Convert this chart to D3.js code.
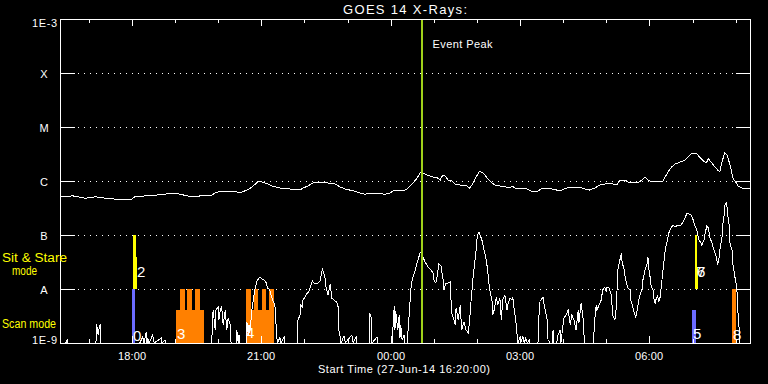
<!DOCTYPE html>
<html><head><meta charset="utf-8">
<script src="https://cdn.jsdelivr.net/npm/d3@7"></script>
<style>html,body{margin:0;padding:0;background:#000;overflow:hidden}</style>
</head><body>
<svg id="c" width="768" height="384"></svg>
<script>
// ---------------- DATA ----------------
const startUTC = Date.UTC(2014, 5, 27, 16, 20);   // 27-Jun-14 16:20:00
const spanMinutes = 960;
const titleText = "GOES 14 X-Rays:";
const xAxisTitle = "Start Time (27-Jun-14 16:20:00)";
const peakMinute = 503;
const peakText = "Event Peak";

// 1-8 A channel (upper curve): minutes since start, flux W/m^2
const longMinutes = [0,18,35,49,63,79,100,104,118,122,135,146,153,167,177,188,195,209,216,223,234,246,250,260,267,275,281,289,295,306,320,334,338,345,352,362,369,376,383,390,397,403,410,417,424,438,452,459,466,480,483,490,497,501,505,511,519,525,529,531,534,537,540,545,550,557,566,570,575,579,583,586,590,594,598,605,612,622,626,629,633,640,650,658,664,669,678,685,691,698,705,714,723,730,737,744,751,758,769,775,779,786,793,803,810,814,818,824,838,842,846,851,856,863,870,874,878,882,886,890,895,899,902,906,910,915,918,921,924,925,928,931,934,936,941,943,949,960];
const longFlux = [5.1e-7,5.3e-7,4.8e-7,5.1e-7,4.8e-7,4.6e-7,4.6e-7,5.1e-7,5.3e-7,5.5e-7,5.5e-7,5.7e-7,6.0e-7,5.7e-7,5.3e-7,5.1e-7,5.3e-7,5.3e-7,6.0e-7,6.5e-7,6.3e-7,6.3e-7,6.0e-7,6.8e-7,7.7e-7,9.6e-7,9.6e-7,8.8e-7,8.1e-7,7.4e-7,7.1e-7,6.8e-7,7.4e-7,8.1e-7,9.2e-7,9.2e-7,9.6e-7,8.8e-7,8.8e-7,7.7e-7,7.1e-7,6.8e-7,6.5e-7,6.0e-7,5.7e-7,6.0e-7,5.7e-7,6.0e-7,6.8e-7,6.8e-7,7.1e-7,8.8e-7,1.14e-6,1.41e-6,1.41e-6,1.29e-6,1.19e-6,1.14e-6,1.04e-6,1.19e-6,1.29e-6,1.19e-6,1.04e-6,1.0e-6,8.8e-7,8.4e-7,8.1e-7,7.4e-7,9.2e-7,1.19e-6,1.47e-6,1.47e-6,1.35e-6,1.14e-6,1.0e-6,8.4e-7,8.1e-7,7.7e-7,7.4e-7,8.1e-7,7.4e-7,7.4e-7,7.1e-7,6.3e-7,6.3e-7,7.1e-7,7.4e-7,7.1e-7,6.8e-7,6.8e-7,7.4e-7,7.7e-7,7.7e-7,7.1e-7,6.8e-7,7.4e-7,8.4e-7,8.8e-7,8.8e-7,8.4e-7,1.04e-6,1.04e-6,9.2e-7,9.2e-7,1.04e-6,1.19e-6,1.04e-6,9.6e-7,9.6e-7,1.19e-6,1.47e-6,1.82e-6,2.06e-6,2.25e-6,2.45e-6,2.78e-6,3.16e-6,3.30e-6,3.16e-6,2.78e-6,2.35e-6,2.15e-6,2.56e-6,2.25e-6,1.90e-6,1.60e-6,1.47e-6,2.25e-6,3.03e-6,3.30e-6,3.03e-6,2.25e-6,1.60e-6,1.14e-6,9.2e-7,8.1e-7,7.4e-7,7.1e-7];

// 0.5-4 A channel (lower curve)
const shortMinutes = [0,8,10,11,50,51,53,54,56,57,111,115,117,120,121,122,124,129,131,141,142,146,147,211,213,216,217,220,221,223,225,227,230,231,232,234,237,238,245,246,248,249,250,259,260,262,263,264,266,267,269,271,274,277,278,281,284,287,289,292,294,296,299,301,302,303,306,307,312,313,330,331,334,335,337,338,341,344,346,351,353,356,359,362,365,367,369,370,373,376,377,378,381,385,387,388,390,391,395,397,406,408,412,413,430,431,433,434,441,442,462,465,466,467,470,472,473,474,476,479,480,483,486,488,490,493,495,498,501,502,505,508,512,516,519,520,523,525,527,530,533,534,537,540,543,544,545,548,550,551,554,557,558,559,562,565,568,570,572,575,577,579,580,582,583,584,587,590,593,595,597,598,601,602,604,607,609,612,614,616,619,622,623,626,629,630,632,634,636,637,640,641,644,646,648,650,653,654,665,666,668,669,672,673,675,678,679,682,685,686,687,691,693,696,697,699,701,704,707,710,712,715,718,721,722,725,728,729,730,742,744,746,747,750,753,755,758,760,761,764,767,768,769,771,772,774,775,776,779,781,782,785,787,790,793,794,797,799,801,803,806,807,810,811,814,817,818,819,821,822,825,826,828,829,831,832,833,835,836,839,842,845,847,850,853,856,858,861,864,867,870,872,875,878,881,883,886,889,892,893,896,897,900,902,904,907,910,913,915,917,918,921,922,924,925,927,928,929,931,932,935,936,939,941,942,943,945,946,949];
const shortFlux = [1e-9,1e-9,1.14e-9,1e-9,1e-9,2.25e-9,1.41e-9,1.74e-9,2.25e-9,1e-9,1e-9,1.29e-9,1e-9,1.6e-9,1e-9,1.24e-9,1e-9,1.41e-9,1e-9,1.24e-9,1e-9,1.14e-9,1e-9,1e-9,4.08e-9,1.74e-9,4.08e-9,4.64e-9,2.67e-9,4.08e-9,4.64e-9,2.15e-9,4.08e-9,2.67e-9,1.74e-9,2.9e-9,2.15e-9,1e-9,1e-9,1.74e-9,1e-9,1.41e-9,1e-9,1e-9,2.45e-9,1.41e-9,2.15e-9,1.53e-9,2.9e-9,4.08e-9,6.25e-9,9.58e-9,1.41e-8,1.6e-8,1.67e-8,1.53e-8,1.47e-8,1.29e-8,1.04e-8,9.58e-9,7.41e-9,6.25e-9,5.05e-9,1.74e-9,1.14e-9,1e-9,1.29e-9,1e-9,1.29e-9,1e-9,1e-9,2.67e-9,3.3e-9,5.05e-9,4.64e-9,6.25e-9,7.11e-9,8.43e-9,8.8e-9,1.41e-8,1.29e-8,1.24e-8,1.29e-8,1.41e-8,2.35e-8,1.98e-8,1.53e-8,1.09e-8,7.74e-9,1.24e-8,9.18e-9,6.81e-9,6.25e-9,5.74e-9,4.64e-9,1.74e-9,1.24e-9,1e-9,1.35e-9,1e-9,1.41e-9,1e-9,1.29e-9,1e-9,1e-9,3.59e-9,2.9e-9,1e-9,1.29e-9,1e-9,1e-9,4.84e-9,1.74e-9,3.91e-9,1.74e-9,3.3e-9,1.24e-9,2.15e-9,1.14e-9,1.41e-9,1e-9,1e-9,3.59e-9,9.58e-9,1.47e-8,1.98e-8,2.45e-8,3.44e-8,4.64e-8,4.84e-8,3.91e-8,3.16e-8,2.55e-8,2.25e-8,1.98e-8,1.47e-8,1.29e-8,1.82e-8,2.9e-8,2.67e-8,1.47e-8,9.58e-9,1.29e-8,1.29e-8,1.35e-8,6.25e-9,3.59e-9,2.67e-9,2.15e-9,4.45e-9,2.67e-9,5.05e-9,2.67e-9,1.74e-9,2.45e-9,1.74e-9,1.53e-9,2.67e-9,6.25e-9,1.82e-8,3.03e-8,5.27e-8,8.07e-8,1.09e-7,1.14e-7,1.04e-7,8.07e-8,5.27e-8,3.44e-8,2.25e-8,1.19e-8,9.58e-9,6.25e-9,3.3e-9,4.08e-9,7.11e-9,5.05e-9,6.81e-9,2.67e-9,6.25e-9,7.74e-9,4.08e-9,5.05e-9,6.81e-9,6.25e-9,7.11e-9,4.08e-9,2.67e-9,1.41e-9,1e-9,1.29e-9,1e-9,1.35e-9,1e-9,1.24e-9,1e-9,1.14e-9,1e-9,1e-9,2.67e-9,6.25e-9,6.25e-9,7.11e-9,5.74e-9,4.08e-9,2.67e-9,1.14e-9,1e-9,1e-9,1.74e-9,1e-9,1e-9,1.41e-9,1.74e-9,1e-9,1.74e-9,2.9e-9,3.3e-9,4.08e-9,2.15e-9,3.4e-9,2.67e-9,1.74e-9,4.08e-9,2.35e-9,5.5e-9,2.67e-9,1.41e-9,1e-9,1e-9,2.67e-9,5.05e-9,4.08e-9,5.05e-9,6.25e-9,9.58e-9,1.09e-8,8.8e-9,1.09e-8,1.04e-8,7.74e-9,5.05e-9,3.3e-9,2.9e-9,2.67e-9,4.45e-9,9.58e-9,2.25e-8,3.44e-8,4.64e-8,3.16e-8,2.25e-8,1.47e-8,1.04e-8,9.58e-9,6.25e-9,4.64e-9,3.59e-9,3.03e-9,4.08e-9,7.11e-9,7.74e-9,1.04e-8,1.47e-8,2.25e-8,3.03e-8,3.91e-8,2.45e-8,1.67e-8,1.19e-8,9.58e-9,6.81e-9,5.5e-9,6.25e-9,7.41e-9,6.81e-9,5.74e-9,7.11e-9,9.58e-9,2.25e-8,5.27e-8,8.07e-8,1.09e-7,1.35e-7,1.53e-7,1.41e-7,1.47e-7,1.47e-7,1.53e-7,1.74e-7,2.15e-7,2.45e-7,2.45e-7,2.35e-7,1.9e-7,1.53e-7,1.24e-7,8.07e-8,7.11e-8,6.53e-8,8.07e-8,1.0e-7,1.47e-7,1.35e-7,9.18e-8,7.11e-8,5.27e-8,3.91e-8,2.78e-8,3.75e-8,5.27e-8,8.8e-8,1.53e-7,2.35e-7,3.59e-7,3.91e-7,3.3e-7,2.35e-7,1.53e-7,7.11e-8,5.27e-8,3.03e-8,1.67e-8,1.19e-8,8.8e-9,4.08e-9,1.74e-9,1e-9,1e-9];

// Y axis decades and names
const decadeValues = [1e-9, 1e-8, 1e-7, 1e-6, 1e-5, 1e-4, 1e-3];
const decadeLabels = ["1E-9", "A", "B", "C", "M", "X", "1E-3"];
const gridValues = [1e-8, 1e-7, 1e-6, 1e-5, 1e-4];

// Observing-mode bars (minutes since start, flux range, mode)
const barStart = [100.6, 102, 105.3, 161.4, 167, 177.1, 187.8, 258.8, 258.8, 269.9, 280.6, 291.2, 879.3, 883.5, 886.7, 935];
const barEnd   = [104.3, 105.3, 107.1, 200.3, 173.9, 184.1, 194.8, 297.7, 265.7, 275.9, 286.6, 297.7, 884.9, 886.7, 888.3, 940.5];
const barLow   = [1e-9, 1e-8, 1e-8, 1e-9, 1e-9, 1e-9, 1e-9, 1e-9, 1e-9, 1e-9, 1e-9, 1e-9, 1e-9, 1e-8, 1e-8, 1e-9];
const barHigh  = [1e-8, 1e-7, 3.9e-8, 4e-9, 1e-8, 1e-8, 1e-8, 4e-9, 1e-8, 1e-8, 1e-8, 1e-8, 4e-9, 1e-7, 2.55e-8, 1e-8];
const barMode  = ["scanA","stare","stare","scanB","scanB","scanB","scanB","scanB","scanB","scanB","scanB","scanB","scanA","stare","stare","scanB"];

// Event number tags
const tagText   = ["0", "2", "3", "4", "5", "6", "7", "8"];
const tagMinute = [101.6, 107.1, 162.8, 258.8, 880.7, 886.3, 886.3, 936.3];
const tagFlux   = [1.09e-9, 1.67e-8, 1.19e-9, 1.24e-9, 1.19e-9, 1.67e-8, 1.67e-8, 1.14e-9];

// Mode legend
const modeLegend = [["Sit & Stare", "mode"], ["Scan mode"]];

// ---------------- STYLE ----------------
const modeColor = {scanA: "#6b6bff", stare: "#ffff00", scanB: "#ff8000"};
const FONT = "'Liberation Sans', Arial, sans-serif";

// ---------------- DRAW ----------------
const W = 768, H = 384;
const P = {l: 60, r: 750, t: 19, b: 343};
const toDate = m => new Date(startUTC + m * 60000);

const x = d3.scaleUtc().domain([toDate(0), toDate(spanMinutes)]).range([P.l, P.r]);
const y = d3.scaleLog().domain([1e-9, 1e-3]).range([P.b, P.t]).clamp(true);

const svg = d3.select("#c").attr("shape-rendering", "crispEdges");
svg.append("rect").attr("width", W).attr("height", H).attr("fill", "#000");

// grid (dotted)
svg.append("g").selectAll("line").data(gridValues).join("line")
  .attr("x1", 78).attr("x2", 736)
  .attr("y1", d => y(d)).attr("y2", d => y(d))
  .attr("stroke", "#fff").attr("stroke-width", 1).attr("stroke-dasharray", "1,5");

// bars
const bars = barStart.map((s, i) => ({s, e: barEnd[i], lo: barLow[i], hi: barHigh[i], mode: barMode[i]}));
svg.append("g").selectAll("rect").data(bars).join("rect")
  .attr("x", d => x(toDate(d.s)))
  .attr("width", d => x(toDate(d.e)) - x(toDate(d.s)))
  .attr("y", d => y(d.hi))
  .attr("height", d => y(d.lo) - y(d.hi))
  .attr("fill", d => modeColor[d.mode]);

// curves
const line = d3.line().x(d => x(toDate(d.m))).y(d => y(d.f));
const longData = longMinutes.map((m, i) => ({m, f: longFlux[i]}));
const shortData = shortMinutes.map((m, i) => ({m, f: shortFlux[i]}));
[longData, shortData].forEach(dat => {
  svg.append("path").datum(dat).attr("d", line)
    .attr("fill", "none").attr("stroke", "#fff").attr("stroke-width", 1);
});

// event peak line
svg.append("line")
  .attr("x1", x(toDate(peakMinute))).attr("x2", x(toDate(peakMinute)))
  .attr("y1", P.t).attr("y2", P.b)
  .attr("stroke", "#9fd11a").attr("stroke-width", 2);
svg.append("text").attr("x", x(toDate(peakMinute)) + 11).attr("y", 48)
  .attr("fill", "#fff").attr("font-family", FONT).attr("font-size", 11)
  .attr("textLength", 60).attr("lengthAdjust", "spacing").text(peakText);

// tags
const tags = tagText.map((t, i) => ({t, m: tagMinute[i], f: tagFlux[i]}));
svg.append("g").selectAll("text").data(tags).join("text")
  .attr("x", d => x(toDate(d.m))).attr("y", d => y(d.f))
  .attr("fill", "#fff").attr("font-family", FONT).attr("font-size", 15)
  .text(d => d.t);

// frame
svg.append("rect").attr("x", P.l).attr("y", P.t).attr("width", P.r - P.l).attr("height", P.b - P.t)
  .attr("fill", "none").attr("stroke", "#fff").attr("stroke-width", 1);

// time ticks
const hours = x.ticks(d3.utcHour.every(1));
const isMajor = d => d.getUTCHours() % 3 === 0;
const fmt = d3.utcFormat("%H:%M");
const tg = svg.append("g");
hours.forEach(d => {
  const xx = Math.round(x(d));
  const len = isMajor(d) ? 7 : 4;
  tg.append("line").attr("x1", xx).attr("x2", xx).attr("y1", P.b).attr("y2", P.b - len).attr("stroke", "#fff");
  tg.append("line").attr("x1", xx).attr("x2", xx).attr("y1", P.t).attr("y2", P.t + len).attr("stroke", "#fff");
  if (isMajor(d)) {
    tg.append("text").attr("x", xx).attr("y", 359.5).attr("text-anchor", "middle")
      .attr("fill", "#fff").attr("font-family", FONT).attr("font-size", 11)
      .attr("textLength", 28).attr("lengthAdjust", "spacing").text(fmt(d));
  }
});

// y ticks + labels
const yg = svg.append("g");
decadeValues.forEach((v, i) => {
  const yy = y(v);
  yg.append("line").attr("x1", P.l).attr("x2", P.l + 15).attr("y1", yy).attr("y2", yy).attr("stroke", "#fff");
  yg.append("line").attr("x1", P.r - 14).attr("x2", P.r).attr("y1", yy).attr("y2", yy).attr("stroke", "#fff");
  const lab = decadeLabels[i];
  const t = yg.append("text").attr("fill", "#fff").attr("font-family", FONT).attr("font-size", 11).text(lab);
  if (lab.length > 1) {
    t.attr("x", 57).attr("text-anchor", "end").attr("textLength", 25).attr("lengthAdjust", "spacing")
     .attr("y", i === 0 ? yy + 1 : yy + 8);
  } else {
    t.attr("x", 44).attr("text-anchor", "middle").attr("y", yy + 4.5);
  }
});

// mode legend (yellow)
const lg = svg.append("g").attr("fill", "#ffff00").attr("font-family", FONT).attr("font-size", 12);
lg.append("text").attr("x", 2).attr("y", 262).attr("textLength", 65).attr("lengthAdjust", "spacingAndGlyphs").text(modeLegend[0][0]);
lg.append("text").attr("x", 12).attr("y", 275).attr("textLength", 25).attr("lengthAdjust", "spacingAndGlyphs").text(modeLegend[0][1]);
lg.append("text").attr("x", 2).attr("y", 328).attr("textLength", 54).attr("lengthAdjust", "spacingAndGlyphs").text(modeLegend[1][0]);

// titles
svg.append("text").attr("x", (P.l + P.r) / 2).attr("y", 14).attr("text-anchor", "middle")
  .attr("fill", "#fff").attr("font-family", FONT).attr("font-size", 13)
  .attr("textLength", 124).attr("lengthAdjust", "spacing").text(titleText);
svg.append("text").attr("x", 404).attr("y", 373).attr("text-anchor", "middle")
  .attr("fill", "#fff").attr("font-family", FONT).attr("font-size", 11)
  .attr("textLength", 172).attr("lengthAdjust", "spacing").text(xAxisTitle);
</script>
</body></html>
